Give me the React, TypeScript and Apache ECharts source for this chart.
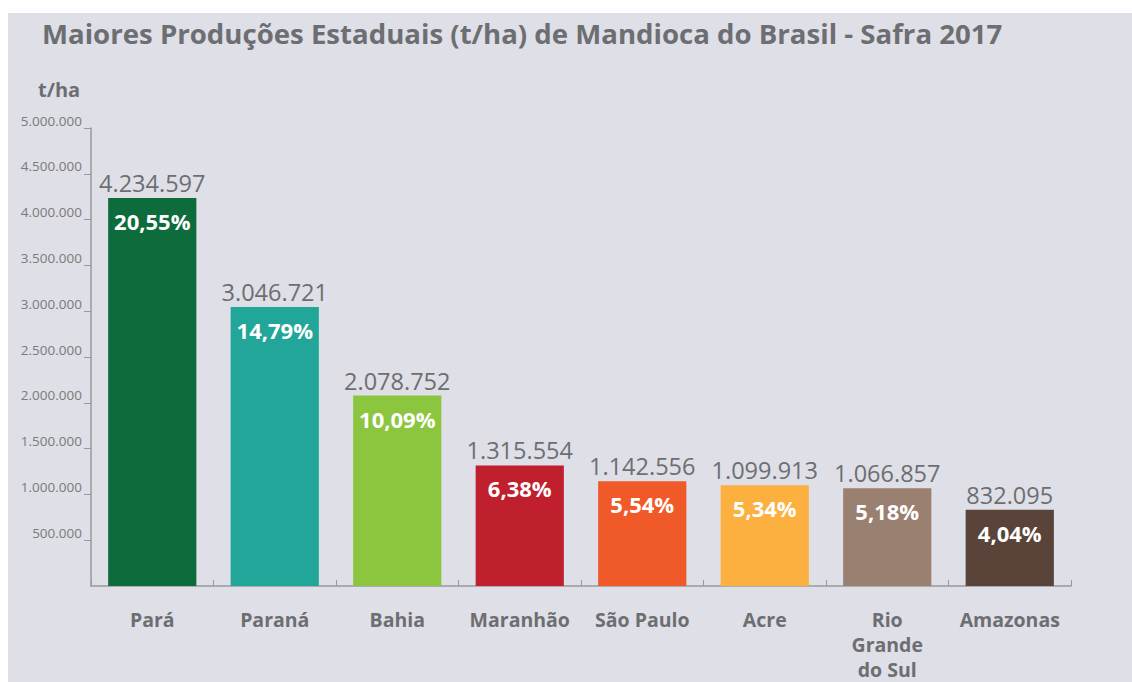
import React, { useEffect, useRef } from "react";
import * as echarts from "echarts";

const categories = ["Pará", "Paraná", "Bahia", "Maranhão", "São Paulo", "Acre", "Rio\nGrande\ndo Sul", "Amazonas"];
const production = [4234597, 3046721, 2078752, 1315554, 1142556, 1099913, 1066857, 832095];
const shares = ["20,55%", "14,79%", "10,09%", "6,38%", "5,54%", "5,34%", "5,18%", "4,04%"];
const barColors = ["#0e6b3b", "#22a699", "#8cc63f", "#c01f2e", "#ef5a28", "#fbb040", "#9a8071", "#5a4339"];
const titleText = "Maiores Produções Estaduais (t/ha) de Mandioca do Brasil - Safra 2017";
const unitText = "t/ha";

const fmt = (v: number) => String(Math.round(v)).replace(/\B(?=(\d{3})+(?!\d))/g, ".");

export default function App() {
  const ref = useRef<HTMLDivElement>(null);
  useEffect(() => {
    const chart = echarts.init(ref.current!, null, { renderer: "svg" });
    const font = "'Open Sans', 'Noto Sans', sans-serif";
    const textColor = "#6d6e71";
    chart.setOption({
      animation: false,
      textStyle: { fontFamily: font },
      graphic: [
        { type: "rect", left: 8, top: 13, z: -10, shape: { width: 1124, height: 669 }, style: { fill: "#dedfe7" } },
        { type: "text", left: 42, top: 19, style: { text: titleText, font: `bold 27.6px ${font}`, fill: textColor } },
        { type: "text", left: 38, top: 79, style: { text: unitText, font: `bold 20px ${font}`, fill: textColor } },
      ],
      grid: { left: 91, right: 61, top: 128, bottom: 87, containLabel: false },
      xAxis: {
        type: "category",
        data: categories,
        axisLine: { lineStyle: { color: "#9a9a9a", width: 1.5 } },
        axisTick: { show: true, inside: true, length: 6, lineStyle: { color: "#9a9a9a" } },
        axisLabel: { color: textColor, fontWeight: "bold", fontSize: 19.5, margin: 21, lineHeight: 25, interval: 0 },
      },
      yAxis: {
        type: "value",
        min: 0,
        max: 5000000,
        interval: 500000,
        splitLine: { show: false },
        axisLine: { show: true, lineStyle: { color: "#9a9a9a", width: 1.5 } },
        axisTick: { show: true, length: 7, lineStyle: { color: "#9a9a9a" } },
        axisLabel: {
          showMinLabel: false,
          color: "#7a7a7a",
          fontSize: 13.5,
          margin: 9,
          verticalAlign: "bottom",
          lineHeight: 15,
          formatter: (v: number) => fmt(v),
        },
      },
      series: [
        {
          type: "bar",
          barCategoryGap: "28%",
          data: production.map((v, i) => ({ value: v, itemStyle: { color: barColors[i] } })),
          label: {
            show: true,
            position: "insideTop",
            distance: 12,
            color: "#ffffff",
            fontWeight: "bold",
            fontSize: 22,
            formatter: (p: any) => shares[p.dataIndex],
          },
        },
        {
          type: "bar",
          barGap: "-100%",
          barCategoryGap: "28%",
          data: production,
          itemStyle: { color: "transparent" },
          label: {
            show: true,
            position: "top",
            distance: 3,
            color: textColor,
            fontSize: 23.5,
            formatter: (p: any) => fmt(p.value),
          },
        },
      ],
    });
    return () => chart.dispose();
  }, []);
  return (
    <div style={{ position: "absolute", left: 0, top: 0, width: 1132, height: 682, background: "#ffffff" }}>
      <div ref={ref} style={{ width: 1132, height: 682 }} />
    </div>
  );
}
